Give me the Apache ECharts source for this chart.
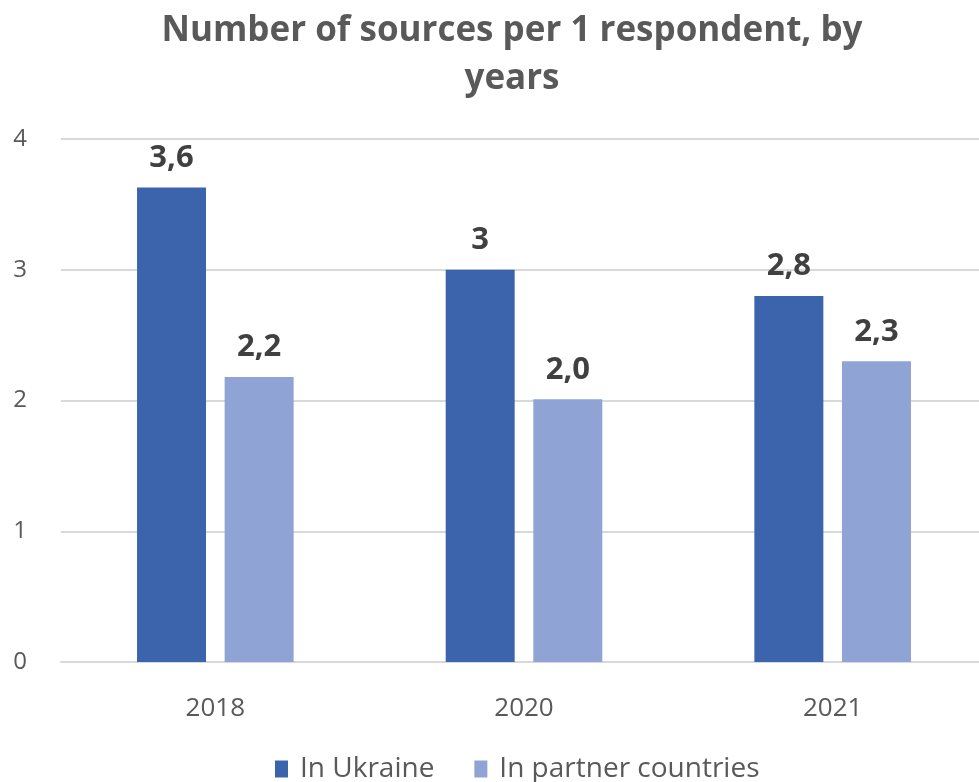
<!DOCTYPE html>
<html><head><meta charset="utf-8">
<script src="https://cdn.jsdelivr.net/npm/echarts@6/dist/echarts.min.js"></script>
<style>html,body{margin:0;padding:0;background:#fff}#c{width:979px;height:782px}</style>
</head><body><div id="c"></div>
<script>
var categories = ['2018', '2020', '2021'];
var seriesNames = ['In Ukraine', 'In partner countries'];
var ukraine = [3.63, 3.0, 2.8];
var partner = [2.18, 2.01, 2.3];
var ukraineLabels = ['3,6', '3', '2,8'];
var partnerLabels = ['2,2', '2,0', '2,3'];
var yTicks = [0, 1, 2, 3, 4];

var FONT = '"Open Sans", sans-serif';
var chart = echarts.init(document.getElementById('c'));
function lbl(arr){
  return {show:true, position:'top', distance:14, fontFamily:FONT, fontWeight:'bold', fontSize:31, color:'#404040',
    formatter:function(p){return arr[p.dataIndex];}};
}
chart.setOption({
  animation:false,
  title:{text:'Number of sources per 1 respondent, by\nyears', left:507, textAlign:'center', top:2,
    textStyle:{fontFamily:FONT, fontWeight:'bold', fontSize:35, color:'#595959', lineHeight:48}},
  legend:{top:750, left:270, itemWidth:13, itemHeight:17, itemGap:40, icon:'rect',
    textStyle:{fontFamily:FONT, fontSize:28, color:'#595959', padding:[0,0,0,7]}, data:seriesNames},
  grid:{left:61, width:926, top:139, height:523, outerBoundsMode:'none', containLabel:false},
  xAxis:{type:'category', data:categories, axisTick:{show:false},
    axisLine:{lineStyle:{color:'#d9d9d9', width:2}},
    axisLabel:{fontFamily:FONT, fontSize:26, color:'#595959', margin:34}},
  yAxis:{type:'value', min:0, max:4, interval:1,
    axisLabel:{fontFamily:FONT, fontSize:24, color:'#595959', margin:34, formatter:function(v){return yTicks.indexOf(v)>=0? String(v):'';}},
    splitLine:{lineStyle:{color:'#d9d9d9', width:2}}, axisLine:{show:false}},
  series:[
    {name:seriesNames[0], type:'bar', data:ukraine, barWidth:69, barGap:'27%', itemStyle:{color:'#3c64ad'}, label:lbl(ukraineLabels)},
    {name:seriesNames[1], type:'bar', data:partner, barWidth:69, itemStyle:{color:'#8fa3d4'}, label:lbl(partnerLabels)}
  ]
});
</script></body></html>
